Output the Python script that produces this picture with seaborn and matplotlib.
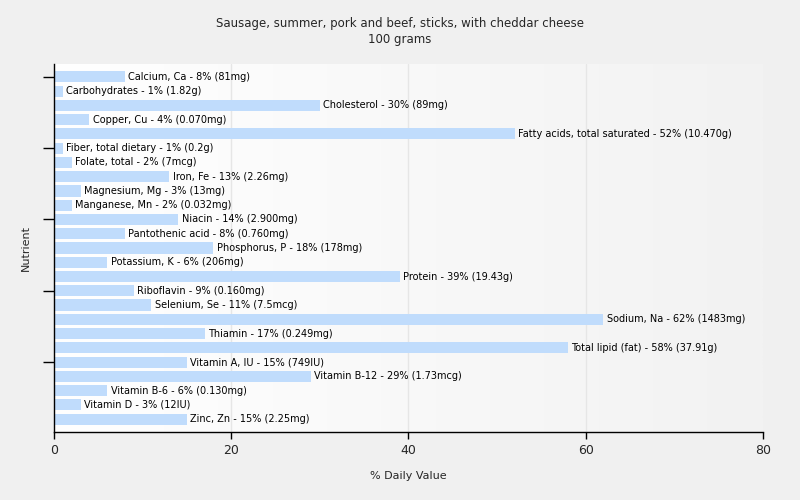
import numpy as np
import pandas as pd
import matplotlib
matplotlib.use('Agg')
import matplotlib.pyplot as plt
import seaborn as sns

nutrients = ['Calcium, Ca', 'Carbohydrates', 'Cholesterol', 'Copper, Cu',
             'Fatty acids, total saturated', 'Fiber, total dietary', 'Folate, total',
             'Iron, Fe', 'Magnesium, Mg', 'Manganese, Mn', 'Niacin', 'Pantothenic acid',
             'Phosphorus, P', 'Potassium, K', 'Protein', 'Riboflavin', 'Selenium, Se',
             'Sodium, Na', 'Thiamin', 'Total lipid (fat)', 'Vitamin A, IU',
             'Vitamin B-12', 'Vitamin B-6', 'Vitamin D', 'Zinc, Zn']
daily_pct = [8, 1, 30, 4, 52, 1, 2, 13, 3, 2, 14, 8, 18, 6, 39, 9, 11, 62, 17, 58,
             15, 29, 6, 3, 15]
amounts = ['81mg', '1.82g', '89mg', '0.070mg', '10.470g', '0.2g', '7mcg', '2.26mg',
           '13mg', '0.032mg', '2.900mg', '0.760mg', '178mg', '206mg', '19.43g',
           '0.160mg', '7.5mcg', '1483mg', '0.249mg', '37.91g', '749IU', '1.73mcg',
           '0.130mg', '12IU', '2.25mg']

df = pd.DataFrame({'Nutrient': nutrients, 'Value': daily_pct, 'Amount': amounts})

sns.set_style('white')
plt.rcParams['font.family'] = ['DejaVu Sans']

fig = plt.figure(figsize=(8, 5), dpi=100, facecolor='#f0f0f0')
ax = fig.add_axes([0.0675, 0.136, 0.886, 0.736])
ax.set_facecolor('none')

# gradient background
grad = np.linspace(1, 0, 256).reshape(1, -1)
cmap = matplotlib.colors.LinearSegmentedColormap.from_list('g', ['#f2f2f2', '#ffffff'])
ax.imshow(grad, extent=[0, 80, 24.5 + 0.9, -0.9], aspect='auto', cmap=cmap, zorder=0)

sns.barplot(data=df, x='Value', y='Nutrient', color='#c0dcfc', width=0.78,
            saturation=1, linewidth=0, ax=ax, zorder=2)

for i, (v, n, a) in enumerate(zip(daily_pct, nutrients, amounts)):
    ax.text(v + 0.4, i, f'{n} - {v}% ({a})', va='center', ha='left',
            fontsize=7, color='#000000', zorder=3)

for gx in [20, 40, 60]:
    ax.axvline(gx, color='#e6e6e6', lw=1, zorder=1)

ax.set_xlim(0, 80)
ax.set_ylim(len(nutrients) - 0.1, -0.9)
ax.set_xticks([0, 20, 40, 60, 80])
ax.set_yticks([0, 5, 10, 15, 20])
ax.set_yticklabels([])
ax.tick_params(axis='y', length=8, width=1, color='black', left=True)
ax.tick_params(axis='x', length=5, width=1, color='black', bottom=True, labelsize=9)
for s in ['top', 'right']:
    ax.spines[s].set_visible(False)
for s in ['left', 'bottom']:
    ax.spines[s].set_color('black')
    ax.spines[s].set_linewidth(1)

ax.set_xlabel('% Daily Value', fontsize=8, labelpad=10)
ax.set_ylabel('Nutrient', fontsize=8, labelpad=5)
fig.suptitle('Sausage, summer, pork and beef, sticks, with cheddar cheese\n100 grams',
             fontsize=8.5, y=0.965)

fig.savefig('out.png', dpi=100, facecolor=fig.get_facecolor())
